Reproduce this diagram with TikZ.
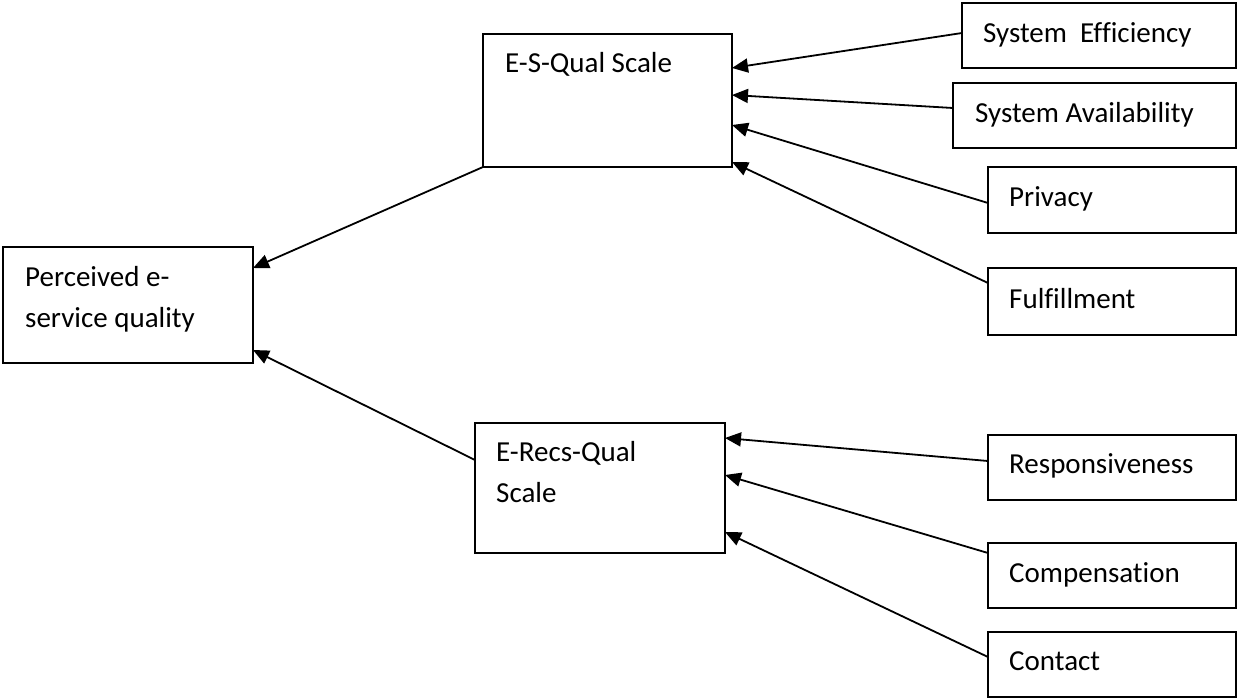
\documentclass[tikz,border=0pt]{standalone}
\usepackage{fontspec}
\setmainfont[Ligatures=NoCommon]{Carlito}
\usetikzlibrary{arrows.meta}
\begin{document}
\begin{tikzpicture}[x=1pt,y=-1pt,
  box/.style={draw, line width=1.9pt, inner sep=0pt, outer sep=0pt},
  lbl/.style={anchor=base west, inner sep=0pt, font=\fontsize{29}{41}\selectfont, align=left},
  conn/.style={line width=1.8pt, -{Triangle[length=16pt,width=14pt]}}]
\useasboundingbox (0,0) rectangle (1238,698);
% boxes
\node[box, minimum width=250, minimum height=116] (perc) at (128,305) {};
\node[box, minimum width=249, minimum height=133] (ses) at (607.5,100.5) {};
\node[box, minimum width=250, minimum height=130] (ser) at (600,488) {};
\node[box, minimum width=274, minimum height=65] (eff) at (1099,35.5) {};
\node[box, minimum width=283, minimum height=65] (avail) at (1094.5,115.5) {};
\node[box, minimum width=248, minimum height=66] (priv) at (1112,200) {};
\node[box, minimum width=248, minimum height=67] (ful) at (1112,301.5) {};
\node[box, minimum width=248, minimum height=65] (resp) at (1112,467.5) {};
\node[box, minimum width=248, minimum height=65] (comp) at (1112,575.5) {};
\node[box, minimum width=248, minimum height=65] (cont) at (1112,664.5) {};
% labels
\node[lbl] (tperc) at (25,327) {Perceived e-\\service quality};
\node[lbl] (tses) at (505,73) {E-S-Qual Scale};
\node[lbl] (tser) at (496,502) {E-Recs-Qual\\Scale};
\node[lbl] (teff) at (983,43) {System\ \ Efficiency};
\node[lbl] (tavail) at (975,122) {System Availability};
\node[lbl] (tpriv) at (1009,206) {Privacy};
\node[lbl] (tful) at (1009,308) {Fulfillment};
\node[lbl] (tresp) at (1009,473) {Responsiveness};
\node[lbl] (tcomp) at (1009,582) {Compensation};
\node[lbl] (tcont) at (1009,670) {Contact};
% connectors
\draw[conn] (ses.south west) -- ([yshift=-21pt]perc.north east);
\draw[conn] ([yshift=-37pt]ser.north west) -- ([yshift=-103pt]perc.north east);
\draw[conn] ([yshift=-30pt]eff.north west) -- ([yshift=-34pt]ses.north east);
\draw[conn] ([yshift=-25pt]avail.north west) -- ([yshift=-61pt]ses.north east);
\draw[conn] ([yshift=-36pt]priv.north west) -- ([yshift=-91pt]ses.north east);
\draw[conn] ([yshift=-15pt]ful.north west) -- ([yshift=-128pt]ses.north east);
\draw[conn] ([yshift=-26pt]resp.north west) -- ([yshift=-15pt]ser.north east);
\draw[conn] ([yshift=-10pt]comp.north west) -- ([yshift=-52pt]ser.north east);
\draw[conn] ([yshift=-25pt]cont.north west) -- ([yshift=-109pt]ser.north east);
\end{tikzpicture}
\end{document}
